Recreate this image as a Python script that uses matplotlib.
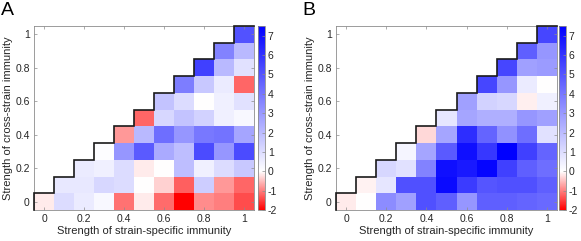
import numpy as np
import matplotlib
matplotlib.use("Agg")
import matplotlib.pyplot as plt
from matplotlib.colors import LinearSegmentedColormap, Normalize

plt.rcParams['font.family'] = ['Liberation Sans', 'DejaVu Sans']

# grid values
strain_specific = [0.0, 0.1, 0.2, 0.3, 0.4, 0.5, 0.6, 0.7, 0.8, 0.9, 1.0]
cross_strain = [0.0, 0.1, 0.2, 0.3, 0.4, 0.5, 0.6, 0.7, 0.8, 0.9, 1.0]
tick_vals = [0, 0.2, 0.4, 0.6, 0.8, 1]
tick_labels = ["0", "0.2", "0.4", "0.6", "0.8", "1"]
cbar_ticks = [-2, -1, 0, 1, 2, 3, 4, 5, 6, 7]
cbar_labels = ["-2", "-1", "0", "1", "2", "3", "4", "5", "6", "7"]

# row j (cross-strain = j/10) holds columns j..10 (strain-specific)
panel_a_rows = [
    [-0.15, 1.03, 0.59, 0.20, -1.10, -0.15, -1.15, -2.00, -0.90, -1.00, -1.40],
    [0.68, 0.68, 1.18, 1.03, 0.00, -0.35, -1.25, 1.47, -0.80, -1.20],
    [0.59, 0.44, 1.03, -0.15, 0.00, 1.90, 0.44, 1.03, 1.62],
    [0.05, 3.09, 4.85, 2.50, 1.90, 5.29, 3.09, 5.29],
    [-0.80, 2.06, 4.26, 3.09, 3.97, 4.12, 2.65],
    [-1.20, 1.18, 1.76, 1.32, 0.44, 0.20],
    [1.76, 1.03, 0.00, 0.44, 0.88],
    [3.82, 1.62, 0.59, -1.20],
    [5.60, 2.06, 0.88],
    [3.68, 2.06],
    [5.10],
]

panel_b_rows = [
    [-0.15, 0.00, 3.38, 2.79, 5.15, 4.71, 3.09, 4.71, 4.71, 4.56, 4.41],
    [-0.10, 0.74, 5.15, 5.15, 7.20, 5.74, 5.00, 5.15, 5.15, 4.71],
    [1.18, 0.88, 3.68, 7.06, 6.76, 7.35, 5.60, 4.71, 4.26],
    [0.30, 2.65, 4.85, 7.06, 5.88, 7.50, 5.60, 4.56],
    [-0.30, 2.65, 6.18, 4.56, 3.24, 4.26, 0.88],
    [0.74, 2.65, 2.35, 2.35, 3.09, 2.79],
    [2.79, 1.32, 1.18, -0.12, 0.44],
    [5.44, 3.09, 0.59, 0.00],
    [5.44, 2.79, 2.94],
    [4.71, 3.09],
    [5.44],
]

VMIN, VMAX = -2, 7.5
zero_pos = (0 - VMIN) / (VMAX - VMIN)
cmap = LinearSegmentedColormap.from_list(
    "rwb", [(0.0, (1, 0, 0)), (zero_pos, (1, 1, 1)), (1.0, (0, 0, 1))], N=512)
norm = Normalize(vmin=VMIN, vmax=VMAX)


def build(rows):
    n = len(strain_specific)
    Z = np.full((len(cross_strain), n), np.nan)
    for j, r in enumerate(rows):
        Z[j, j:j + len(r)] = r
    return np.ma.masked_invalid(Z)


W, H = 581, 241
fig = plt.figure(figsize=(W / 100, H / 100), dpi=100)

spine_col = "#8c8c8c"
text_col = "#262626"


def fx(px):
    return px / W


def fy(py):
    return 1 - py / H


panels = [
    ("A", panel_a_rows, 34, 254, 258, 265, 1),
    ("B", panel_b_rows, 336, 557, 559, 566, 302),
]

x = np.array(strain_specific)
y = np.array(cross_strain)
dx = x[1] - x[0]
dy = y[1] - y[0]
xe = np.concatenate([x - dx / 2, [x[-1] + dx / 2]])
ye = np.concatenate([y - dy / 2, [y[-1] + dy / 2]])

top, bottom = 26, 210
for letter, rows, l, r, cl, cr, lx in panels:
    ax = fig.add_axes([fx(l), fy(bottom), fx(r) - fx(l), fy(top) - fy(bottom)])
    Z = build(rows)
    mesh = ax.pcolormesh(xe, ye, Z, cmap=cmap, norm=norm, shading="flat", edgecolors="none")
    # staircase boundary
    sx = [xe[0]]
    sy = [ye[0]]
    for k in range(len(x)):
        sx += [xe[k], xe[k + 1]]
        sy += [ye[k + 1], ye[k + 1]]
    ax.plot(sx, sy, color="#1a1a1a", lw=1.2, solid_joinstyle="miter", clip_on=False, zorder=3)
    ax.set_xlim(xe[0], xe[-1])
    ax.set_ylim(ye[0], ye[-1])
    ax.set_xticks(tick_vals)
    ax.set_xticklabels(tick_labels)
    ax.set_yticks(tick_vals)
    ax.set_yticklabels(tick_labels)
    ax.tick_params(direction="in", length=2.5, width=0.5, colors=spine_col, labelcolor=text_col,
                   labelsize=7.5, top=True, right=True, pad=3)
    for s in ax.spines.values():
        s.set_color(spine_col)
        s.set_linewidth(0.6)
    ax.set_xlabel("Strength of strain-specific immunity", fontsize=8, color=text_col, labelpad=1)
    ax.set_ylabel("Strength of cross-strain immunity", fontsize=8, color=text_col, labelpad=2)

    cax = fig.add_axes([fx(cl), fy(bottom), fx(cr) - fx(cl), fy(top) - fy(bottom)])
    cb = fig.colorbar(mesh, cax=cax)
    cb.set_ticks(cbar_ticks)
    cb.set_ticklabels(cbar_labels)
    cax.tick_params(direction="in", length=2, width=0.5, colors=spine_col, labelcolor=text_col,
                    labelsize=7.5, pad=2)
    cb.outline.set_edgecolor(spine_col)
    cb.outline.set_linewidth(0.6)

    fig.text(fx(lx), fy(2), letter, fontsize=14, ha="left", va="top", color="black")

fig.savefig("out.png", dpi=100)
